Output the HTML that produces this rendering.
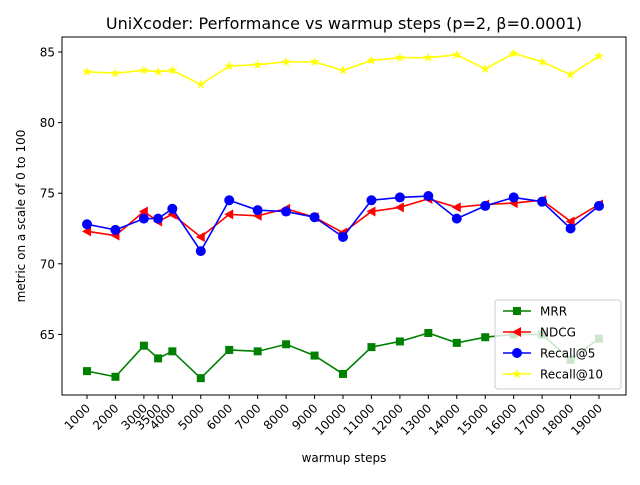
<!DOCTYPE html>
<html><head><meta charset="utf-8"><style>
body{margin:0;background:#fff;font-family:"Liberation Sans","DejaVu Sans",sans-serif}
svg text{font-family:"DejaVu Sans","Liberation Sans",sans-serif}
</style></head><body>
<svg id="c" width="640" height="480"></svg>
<script>
const steps=[1000,2000,3000,3500,4000,5000,6000,7000,8000,9000,10000,11000,12000,13000,14000,15000,16000,17000,18000,19000];
const mrr=[62.4,62.0,64.2,63.3,63.8,61.9,63.9,63.8,64.3,63.5,62.2,64.1,64.5,65.1,64.4,64.8,65.0,65.0,63.2,64.7];
const ndcg=[72.3,72.0,73.7,73.0,73.5,71.9,73.5,73.4,73.9,73.3,72.2,73.7,74.0,74.6,74.0,74.2,74.3,74.5,73.0,74.2];
const recall5=[72.8,72.4,73.2,73.2,73.9,70.9,74.5,73.8,73.7,73.3,71.9,74.5,74.7,74.8,73.2,74.1,74.7,74.4,72.5,74.1];
const recall10=[83.6,83.5,83.7,83.6,83.7,82.7,84.0,84.1,84.3,84.3,83.7,84.4,84.6,84.6,84.8,83.8,84.9,84.3,83.4,84.7];
const yTicks=[65,70,75,80,85];
const L=62,R=626,T=37,B=395;
const xs=v=>87+(v-1000)*(599-87)/18000;
const ys=v=>52+(85-v)*14.12;
const svg=document.getElementById('c');const NS='http://www.w3.org/2000/svg';
function mk(t,a,p){const e=document.createElementNS(NS,t);for(const k in a)e.setAttribute(k,a[k]);(p||svg).appendChild(e);return e;}
const frame=mk('rect',{x:L,y:T,width:R-L,height:B-T,fill:'none',stroke:'#000','stroke-width':1});


const title=mk('text',{x:344,y:29,'text-anchor':'middle','font-size':16});title.textContent='UniXcoder: Performance vs warmup steps (p=2, β=0.0001)';


yTicks.forEach(v=>{const y=ys(v);mk('line',{x1:L-4,x2:L,y1:y,y2:y,stroke:'#000'});
const t=mk('text',{x:L-7,y:y+4.5,'text-anchor':'end','font-size':12});t.textContent=v;

});
steps.forEach(s=>{const x=xs(s);mk('line',{x1:x,x2:x,y1:B,y2:B+4,stroke:'#000'});
const t=mk('text',{x:x+4,y:B+14,'text-anchor':'end','font-size':12,transform:`rotate(-45 ${x+4} ${B+14})`});t.textContent=s;

});
const xl=mk('text',{x:344,y:462,'text-anchor':'middle','font-size':12});xl.textContent='warmup steps';


const yl=mk('text',{x:25,y:216,'text-anchor':'middle','font-size':12,transform:'rotate(-90 25 216)'});yl.textContent='metric on a scale of 0 to 100';


function marker(g,type,x,y,c){
 if(type==='s')mk('rect',{x:x-4,y:y-4,width:8,height:8,fill:c},g);
 else if(type==='t')mk('polygon',{points:`${x-5},${y} ${x+4},${y-5} ${x+4},${y+5}`,fill:c},g);
 else if(type==='o')mk('circle',{cx:x,cy:y,r:5,fill:c},g);
 else {let p=[];for(let i=0;i<10;i++){const r=i%2?2:5,a=-Math.PI/2+i*Math.PI/5;p.push((x+r*Math.cos(a))+','+(y+r*Math.sin(a)));}mk('polygon',{points:p.join(' '),fill:c},g);}
}
const series=[['mrr',mrr,'green','s'],['ndcg',ndcg,'red','t'],['recall5',recall5,'blue','o'],['recall10',recall10,'yellow','*']];
series.forEach(([n,d,c,m])=>{const g=mk('g',{});


mk('polyline',{points:d.map((v,i)=>xs(steps[i])+','+ys(v)).join(' '),fill:'none',stroke:c,'stroke-width':1.6},g);
d.forEach((v,i)=>marker(g,m,xs(steps[i]),ys(v),c));});
const lg=mk('g',{});


mk('rect',{x:495,y:300,width:126,height:89,rx:3,fill:'rgba(255,255,255,0.8)',stroke:'#ccc'},lg);
const names=['MRR','NDCG','Recall@5','Recall@10'];
series.forEach(([n,d,c,m],i)=>{const y=311+i*21;
mk('line',{x1:503,x2:531,y1:y,y2:y,stroke:c,'stroke-width':1.6},lg);marker(lg,m,517,y,c);
const t=mk('text',{x:540,y:y+4.5,'font-size':12},lg);t.textContent=names[i];

});
</script>
</body></html>
